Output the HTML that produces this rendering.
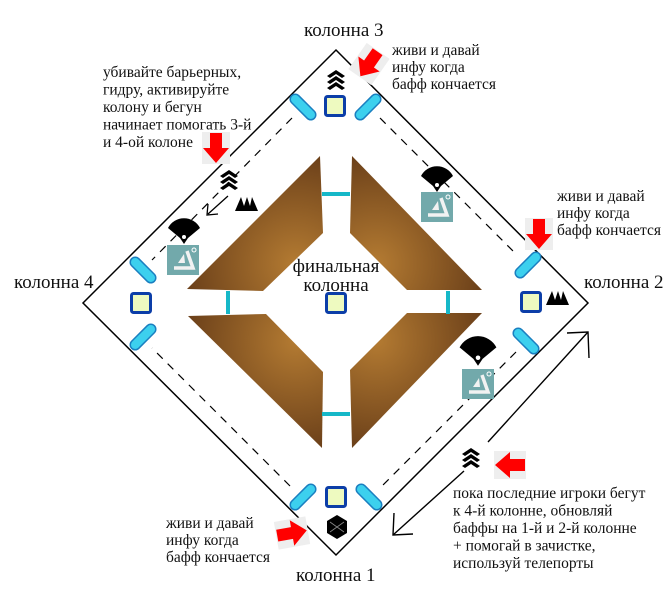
<!DOCTYPE html>
<html><head><meta charset="utf-8"><style>
html,body{margin:0;padding:0;background:#fff;}
svg{display:block;}
text{font-family:"Liberation Serif",serif;fill:#111;}
</style></head><body>
<svg width="669" height="596" viewBox="0 0 669 596" xmlns="http://www.w3.org/2000/svg">
<defs>
<radialGradient id="g1" cx="0.8" cy="0.8" r="0.9"><stop offset="0" stop-color="#b47b32"/><stop offset="1" stop-color="#643a17"/></radialGradient>
<radialGradient id="g2" cx="0.2" cy="0.8" r="0.9"><stop offset="0" stop-color="#b47b32"/><stop offset="1" stop-color="#643a17"/></radialGradient>
<radialGradient id="g3" cx="0.8" cy="0.2" r="0.9"><stop offset="0" stop-color="#b47b32"/><stop offset="1" stop-color="#643a17"/></radialGradient>
<radialGradient id="g4" cx="0.2" cy="0.2" r="0.9"><stop offset="0" stop-color="#b47b32"/><stop offset="1" stop-color="#643a17"/></radialGradient>
<g id="pillA"><rect x="-16" y="-5" width="32" height="10" rx="5" fill="#3cd0ee" stroke="#1a7fc0" stroke-width="1.5"/></g>
<g id="sq"><rect x="-9.5" y="-9.5" width="19" height="19" rx="2" fill="#eefac0" stroke="#0c3ea8" stroke-width="3"/></g>
<g id="chev"><path d="M-9,-2 L0,-8 L9,-2 L6,0 L0,-4 L-6,0Z M-9,4 L0,-2 L9,4 L6,6 L0,2 L-6,6Z M-9,10 L0,4 L9,10 L6,12 L0,8 L-6,12Z" fill="#000" transform="translate(0,-2)"/></g>
<g id="fan"><path d="M-16,-4 A18,18 0 0 1 16,-4 L4,6 L0,12 L-4,6Z" fill="#000"/><circle cx="0" cy="5" r="2" fill="#fff"/></g>
<g id="teal"><rect x="-16" y="-15" width="32" height="30" fill="#72a9ab"/><path d="M-9,8 L10,8 L4,-9" fill="none" stroke="#f2f2f2" stroke-width="3.5"/><path d="M-5,3 L1,-6 L2,3Z" fill="#f2f2f2"/><circle cx="11" cy="-10" r="2" fill="none" stroke="#fff" stroke-width="1"/></g>
<g id="ridge"><path d="M-11,7 L-5,-7 L-2,2 L1,-7 L4,2 L6,-7 L12,7Z" fill="#000"/></g>
<g id="red"><rect x="-14" y="-16" width="28" height="32" fill="#eee"/><path d="M-6,-15 L6,-15 L6,0 L13,0 L0,15 L-13,0 L-6,0Z" fill="#f00"/></g>
</defs>

<polygon points="336,50 588,303 336,555 83,303" fill="none" stroke="#000" stroke-width="1.5"/>
<g stroke="#000" stroke-width="1.2" stroke-dasharray="8,7" fill="none">
<line x1="292" y1="118" x2="152" y2="260"/>
<line x1="380" y1="118" x2="516" y2="254"/>
<line x1="516" y1="352" x2="380" y2="488"/>
<line x1="290" y1="486" x2="152" y2="348"/>
</g>

<polygon points="320,156 323,233 263,291 187,289" fill="url(#g1)"/>
<polygon points="352,156 350,233 407,290 482,290" fill="url(#g2)"/>
<polygon points="188,316 266,314 323,372 322,448" fill="url(#g3)"/>
<polygon points="482,313 407,313 350,370 352,448" fill="url(#g4)"/>
<g stroke="#16b8c8" stroke-width="4">
<line x1="322" y1="194" x2="350" y2="194"/>
<line x1="322" y1="414" x2="350" y2="414"/>
<line x1="228" y1="291" x2="228" y2="314"/>
<line x1="448" y1="291" x2="448" y2="314"/>
</g>
<use href="#sq" x="336" y="303"/>
<text x="336" y="272" font-size="19" text-anchor="middle">финальная</text>
<text x="336" y="291" font-size="19" text-anchor="middle">колонна</text>

<use href="#sq" x="335" y="106"/>
<use href="#sq" x="336" y="497"/>
<use href="#sq" x="141" y="303"/>
<use href="#sq" x="531" y="302"/>
<use href="#pillA" transform="translate(303,107) rotate(45)"/>
<use href="#pillA" transform="translate(368,107) rotate(-45)"/>
<use href="#pillA" transform="translate(303,497) rotate(-45)"/>
<use href="#pillA" transform="translate(369,497) rotate(45)"/>
<use href="#pillA" transform="translate(143,270) rotate(45)"/>
<use href="#pillA" transform="translate(143,337) rotate(-45)"/>
<use href="#pillA" transform="translate(528,265) rotate(-45)"/>
<use href="#pillA" transform="translate(526,341) rotate(45)"/>

<use href="#chev" x="336" y="80"/>
<use href="#red" transform="translate(369,64) rotate(35)"/>
<use href="#chev" x="229" y="180"/>
<use href="#red" transform="translate(216,148)"/>
<use href="#ridge" x="246" y="204"/>
<path d="M228,196 L208,214 M208,204 L207,215 L218,214" stroke="#000" stroke-width="1.3" fill="none"/>
<use href="#fan" x="184" y="232"/>
<use href="#teal" x="183" y="260"/>
<use href="#fan" x="437" y="180"/>
<use href="#teal" x="437" y="207"/>
<use href="#red" transform="translate(539,234)"/>
<use href="#ridge" x="557" y="298"/>
<use href="#fan" transform="translate(478,352) scale(1.15)"/>
<use href="#teal" x="478" y="384"/>
<use href="#chev" x="471" y="458"/>
<use href="#red" transform="translate(510,465) rotate(90)"/>
<polygon points="337,515 347,521 347,533 337,539 327,533 327,521" fill="#000"/>
<path d="M330,522 L344,532 M344,522 L330,532" stroke="#888" stroke-width="0.8"/>
<use href="#red" transform="translate(292,533) rotate(-100)"/>

<g stroke="#000" stroke-width="1.4" fill="none">
<line x1="488" y1="442" x2="588" y2="332"/>
<path d="M567,333 L588,332 L589,358"/>
<line x1="464" y1="471" x2="393" y2="535"/>
<path d="M394,513 L393,535 L413,534"/>
</g>

<text x="304" y="36" font-size="19">колонна 3</text>
<text x="14" y="288" font-size="19">колонна 4</text>
<text x="584" y="288" font-size="19">колонна 2</text>
<text x="296" y="581" font-size="19">колонна 1</text>
<g font-size="15.5">
<text x="392" y="55">живи и давай</text>
<text x="392" y="72">инфу когда</text>
<text x="392" y="89">бафф кончается</text>
<text x="103" y="77">убивайте барьерных,</text>
<text x="103" y="94.5">гидру, активируйте</text>
<text x="103" y="112">колону и бегун</text>
<text x="103" y="129.5">начинает помогать 3-й</text>
<text x="103" y="147">и 4-ой колоне</text>
<text x="557" y="201">живи и давай</text>
<text x="557" y="218">инфу когда</text>
<text x="557" y="235">бафф кончается</text>
<text x="166" y="528">живи и давай</text>
<text x="166" y="545">инфу когда</text>
<text x="166" y="562">бафф кончается</text>
<text x="453" y="498">пока последние игроки бегут</text>
<text x="453" y="515.5">к 4-й колонне, обновляй</text>
<text x="453" y="533">баффы на 1-й и 2-й колонне</text>
<text x="453" y="550.5">+ помогай в зачистке,</text>
<text x="453" y="568">используй телепорты</text>
</g>
</svg>
</body></html>
